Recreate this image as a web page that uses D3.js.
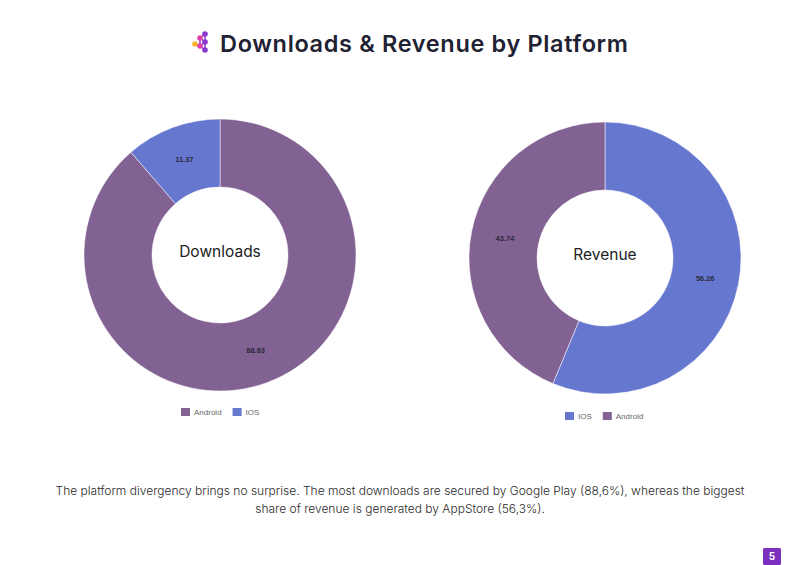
<!DOCTYPE html>
<html><head><meta charset="utf-8">
<script src="https://cdn.jsdelivr.net/npm/d3@7"></script>
<style>
body{margin:0;background:#fff;}
svg{display:block;}
</style></head>
<body>
<svg id="c" width="800" height="565"></svg>
<script>
const title = "Downloads & Revenue by Platform";
const downloadsLabels = ["Android", "IOS"];
const downloadsValues = [88.63, 11.37];
const revenueLabels = ["IOS", "Android"];
const revenueValues = [56.26, 43.74];
const colorMap = {"Android": "#826193", "IOS": "#6677d0"};
const footerLines = [
  "The platform divergency brings no surprise. The most downloads are secured by Google Play (88,6%), whereas the biggest",
  "share of revenue is generated by AppStore (56,3%)."
];
const pageNumber = "5";

const svg = d3.select("#c");

// title
const tt = svg.append("text").attr("x", 220).attr("y", 52)
  .attr("font-family", "Inter, 'Noto Sans', sans-serif").attr("font-weight", 600)
  .attr("font-size", 23.5).attr("fill", "#1f2233").text(title);
tt.attr("textLength", 408).attr("lengthAdjust", "spacing");

// logo
const logo = svg.append("g");
const lines = [[200,38,205,34],[200,38,205,42],[200,46,205,42],[200,46,205,50],[205,34,205,50],[200,38,200,46]];
lines.forEach(l => logo.append("line").attr("x1",l[0]).attr("y1",l[1]).attr("x2",l[2]).attr("y2",l[3]).attr("stroke","#9b3ccf").attr("stroke-width",1.5));
[[195,44,"#f7b731",2.8],[200,38,"#e040a8",2.8],[200,46,"#e040a8",2.8],[205,34,"#8a37d0",2.8],[205,42,"#8a37d0",2.8],[205,50,"#8a37d0",2.8]]
  .forEach(c => logo.append("circle").attr("cx",c[0]).attr("cy",c[1]).attr("r",c[3]).attr("fill",c[2]));

function donut(cx, cy, labels, values, centerText, legendY, legendX) {
  const g = svg.append("g").attr("transform", `translate(${cx},${cy})`);
  const pie = d3.pie().sort(null).value(d => d.v);
  const data = labels.map((l, i) => ({l, v: values[i]}));
  const arc = d3.arc().innerRadius(68).outerRadius(136);
  const arcs = pie(data);
  g.selectAll("path").data(arcs).join("path")
    .attr("d", arc).attr("fill", d => colorMap[d.data.l])
    .attr("stroke", "#fff").attr("stroke-width", 0.5);
  g.selectAll("text.lbl").data(arcs).join("text").attr("class","lbl")
    .attr("transform", d => `translate(${arc.centroid(d)})`)
    .attr("text-anchor","middle").attr("dy","0.35em")
    .attr("font-family","'Liberation Sans', Arial, sans-serif").attr("font-weight","bold")
    .attr("font-size", 7.5).attr("fill","#2a2a3a").text(d => d.data.v.toFixed(2));
  g.append("text").attr("text-anchor","middle").attr("y", -3).attr("dy","0.35em")
    .attr("font-family","Inter, 'Noto Sans', sans-serif").attr("font-size",15.5)
    .attr("fill","#222").text(centerText);
  // legend
  const lg = svg.append("g").attr("transform", `translate(${legendX},${legendY})`);
  let x = 0;
  labels.forEach(l => {
    lg.append("rect").attr("x", x).attr("y", -4).attr("width", 9).attr("height", 8).attr("fill", colorMap[l]);
    const t = lg.append("text").attr("x", x + 13).attr("y", 0).attr("dy","0.35em")
      .attr("font-family","'Liberation Sans', Arial, sans-serif").attr("font-size", 8)
      .attr("fill","#666").text(l);
    x += 13 + t.node().getComputedTextLength() + 11;
  });
}

donut(220, 255, downloadsLabels, downloadsValues, "Downloads", 412, 181);
donut(605, 258, revenueLabels, revenueValues, "Revenue", 416, 565);

// footer
footerLines.forEach((t, i) => {
  svg.append("text").attr("x", 400).attr("y", 495 + i * 18).attr("text-anchor","middle")
    .attr("font-family","Inter, 'Noto Sans', sans-serif").attr("font-weight", 300)
    .attr("font-size", 12).attr("fill","#2a2a2a").text(t);
});

// page number
svg.append("rect").attr("x", 763).attr("y", 548).attr("width", 18).attr("height", 17).attr("rx", 1.5).attr("fill", "#7b2fbe");
svg.append("text").attr("x", 772).attr("y", 556.5).attr("dy","0.35em").attr("text-anchor","middle")
  .attr("font-family","Inter, sans-serif").attr("font-weight", 700).attr("font-size", 10).attr("fill","#fff").text(pageNumber);
</script>
</body></html>
